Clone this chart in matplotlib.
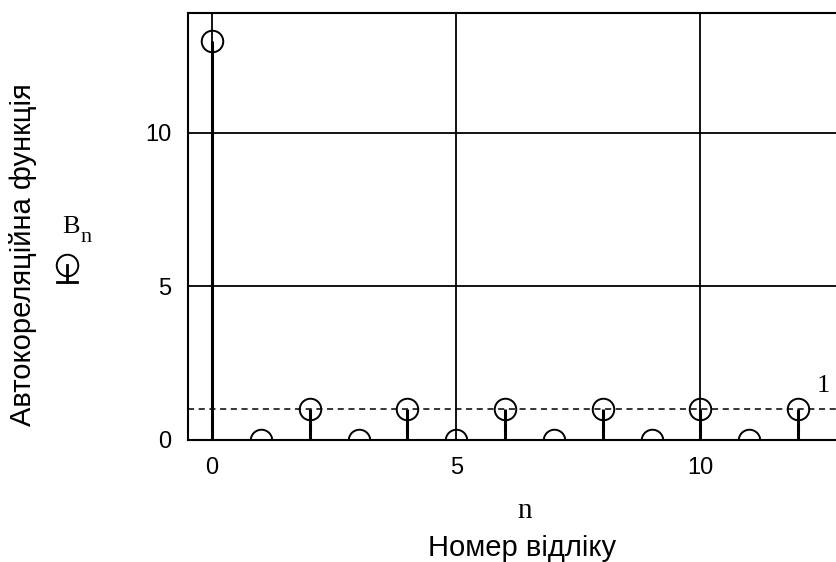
import numpy as np
import matplotlib
matplotlib.use('Agg')
import matplotlib.pyplot as plt
from matplotlib.lines import Line2D

# autocorrelation samples
n_vals = [0, 1, 2, 3, 4, 5, 6, 7, 8, 9, 10, 11, 12]
B_vals = [13, 0, 1, 0, 1, 0, 1, 0, 1, 0, 1, 0, 1]
ref_level = 1
x_ticks = [0, 5, 10]
y_ticks = [0, 5, 10]

plt.rcParams['font.family'] = ['Liberation Sans', 'DejaVu Sans']

fig = plt.figure(figsize=(8.36, 5.62), dpi=100)
ax = fig.add_axes([0.2249, 0.2171, 0.8, 0.7598])

ax.set_xlim(-0.49, 13.2)
ax.set_ylim(0, 13.9)

# grid
for xv in x_ticks:
    ax.axvline(xv, color='black', lw=1.3, zorder=1)
for yv in y_ticks[1:]:
    ax.axhline(yv, color='black', lw=1.3, zorder=1)

# reference level
ax.axhline(ref_level, color='black', lw=1.1, ls=(0, (4, 3)), zorder=2)
ax.text(12.38, ref_level + 0.56, str(ref_level), family='Liberation Serif',
        fontsize=19, ha='left', va='baseline')

# stems
ax.vlines(n_vals, 0, B_vals, color='black', lw=2.2, zorder=3)
ax.plot(n_vals, B_vals, 'o', ms=15.5, mfc='none', mec='black', mew=1.4,
        ls='none', zorder=4)

ax.set_xticks(x_ticks)
ax.set_yticks(y_ticks)
ax.tick_params(length=0, labelsize=17, pad=12)
for s in ax.spines.values():
    s.set_linewidth(1.5)

# axis titles
fig.text(0.628, 0.0783, 'n', family='Liberation Serif', fontsize=21,
         ha='center', va='baseline')
fig.text(0.6245, 0.011, 'Номер відліку', fontsize=21, ha='center',
         va='baseline')
fig.text(0.0275, 0.547, 'Автокореляційна функція', fontsize=21,
         rotation=90, ha='center', va='center')

# trace legend: B_n and its symbol
W, H = 836, 562
fig.text(62 / W, 1 - 233 / H, 'B', family='Liberation Serif', fontsize=19,
         ha='left', va='baseline')
fig.text(80 / W, 1 - 242 / H, 'n', family='Liberation Serif', fontsize=16,
         ha='left', va='baseline')
cx, cy = 66.5 / W, 1 - 265 / H
fig.add_artist(Line2D([cx], [cy], marker='o', ms=15.5, mfc='none', mec='black',
                      mew=1.4, transform=fig.transFigure))
fig.add_artist(Line2D([cx, cx], [cy, 1 - 282 / H], color='black', lw=2.0,
                      transform=fig.transFigure))
fig.add_artist(Line2D([57 / W, 77 / W], [1 - 282 / H, 1 - 282 / H],
                      color='black', lw=2.0, transform=fig.transFigure))

fig.savefig('out.png', dpi=100)
